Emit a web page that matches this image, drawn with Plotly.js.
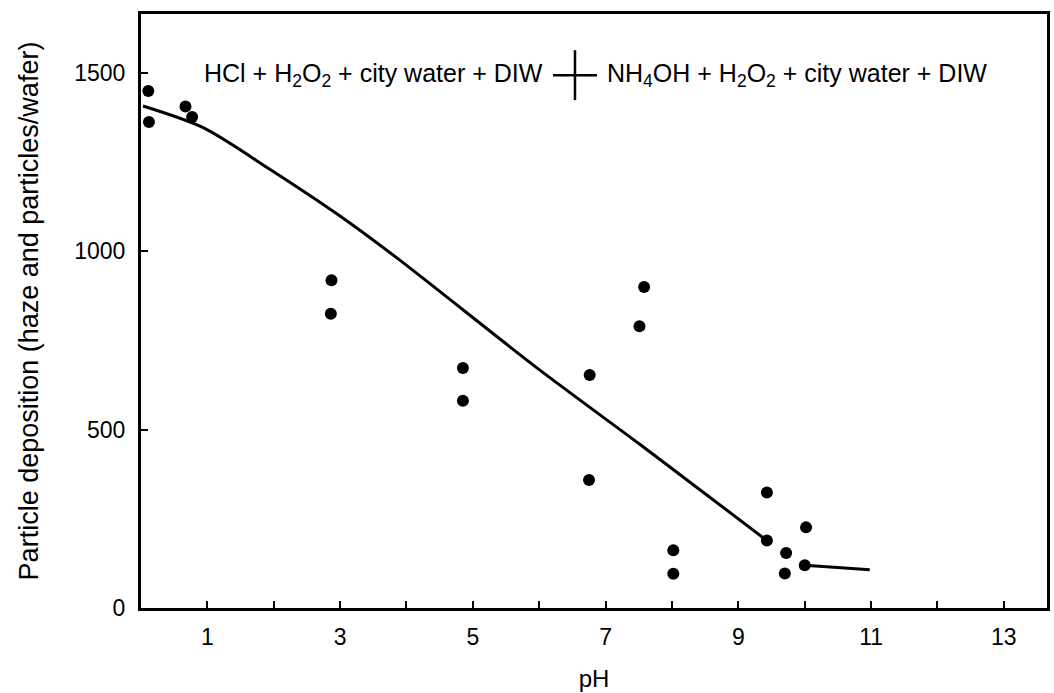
<!DOCTYPE html>
<html>
<head>
<meta charset="utf-8">
<script src="https://cdn.plot.ly/plotly-3.0.1.min.js"></script>
<style>
  html, body { margin: 0; padding: 0; background: #ffffff; }
  #chart { width: 1054px; height: 693px; }
</style>
</head>
<body>
<div id="chart"></div>
<script>
// ---- data ----
const pointPH    = [0.11, 0.12, 0.67, 0.77, 2.87, 2.86, 4.85, 4.85, 6.76, 6.75, 7.58, 7.51, 8.02, 8.02, 9.43, 9.43, 9.72, 9.70, 10.02, 10.0];
const pointValue = [1449, 1362, 1406, 1376, 919, 825, 673, 581, 653, 359, 900, 790, 162, 96, 324, 189, 154, 97, 226, 120];

const hclCurvePH    = [0.03, 0.93, 1.94, 2.95, 3.85, 5.98, 7.50, 8.41, 9.43];
const hclCurveValue = [1407, 1347, 1230, 1105, 982, 671, 461, 333, 189];

const nh4CurvePH    = [10.0, 10.98];
const nh4CurveValue = [120, 107];

const xTickVals  = [1, 2, 3, 4, 5, 6, 7, 8, 9, 10, 11, 12, 13];
const xTickText  = ['1', '', '3', '', '5', '', '7', '', '9', '', '11', '', '13'];
const yTickVals  = [0, 500, 1000, 1500];

const legendLeftText  = 'HCl + H<sub>2</sub>O<sub>2</sub> + city water + DIW';
const legendRightText = 'NH<sub>4</sub>OH + H<sub>2</sub>O<sub>2</sub> + city water + DIW';
const xTitle = 'pH';
const yTitle = 'Particle deposition (haze and particles/wafer)';

// ---- chart ----
const FONT = 'Liberation Sans, Arial, sans-serif';

const traces = [
  {
    x: hclCurvePH, y: hclCurveValue, type: 'scatter', mode: 'lines',
    line: { color: '#000', width: 3, shape: 'spline', smoothing: 0.8 },
    name: 'HCl', showlegend: false, hoverinfo: 'skip'
  },
  {
    x: nh4CurvePH, y: nh4CurveValue, type: 'scatter', mode: 'lines',
    line: { color: '#000', width: 3 },
    name: 'NH4OH', showlegend: false, hoverinfo: 'skip'
  },
  {
    x: pointPH, y: pointValue, type: 'scatter', mode: 'markers',
    marker: { color: '#000', size: 12, symbol: 'circle' },
    name: 'data', showlegend: false
  }
];

const layout = {
  width: 1054, height: 693,
  margin: { l: 141, r: 7, t: 14, b: 85 },
  paper_bgcolor: '#fff', plot_bgcolor: '#fff',
  showlegend: false,
  font: { family: FONT, color: '#000', size: 19 },
  xaxis: {
    range: [0, 13.65],
    tickmode: 'array', tickvals: xTickVals, ticktext: xTickText,
    ticks: 'inside', ticklen: 7, tickwidth: 2, tickcolor: '#000',
    showline: true, linecolor: '#000', linewidth: 3, mirror: true,
    showgrid: false, zeroline: false,
    tickfont: { family: FONT, size: 23, color: '#000' },
    ticklabelstandoff: 6,
    title: { text: xTitle, font: { family: FONT, size: 24, color: '#000' }, standoff: 22 }
  },
  yaxis: {
    range: [0, 1665],
    tickmode: 'array', tickvals: yTickVals,
    ticks: 'inside', ticklen: 7, tickwidth: 2, tickcolor: '#000',
    showline: true, linecolor: '#000', linewidth: 3, mirror: true,
    showgrid: false, zeroline: false,
    tickfont: { family: FONT, size: 23, color: '#000' },
    ticklabelstandoff: 8,
    title: { text: yTitle, font: { family: FONT, size: 27, color: '#000' }, standoff: 28 }
  },
  annotations: [
    {
      xref: 'paper', yref: 'paper', x: 0.446, y: 0.897,
      xanchor: 'right', yanchor: 'middle', showarrow: false,
      text: legendLeftText, font: { family: FONT, size: 25, color: '#000' }
    },
    {
      xref: 'paper', yref: 'paper', x: 0.512, y: 0.897,
      xanchor: 'left', yanchor: 'middle', showarrow: false,
      text: legendRightText, font: { family: FONT, size: 25, color: '#000' }
    }
  ],
  shapes: [
    { type: 'line', xref: 'paper', yref: 'paper', x0: 0.4547, x1: 0.5033, y0: 0.897, y1: 0.897,
      line: { color: '#000', width: 2.5 } },
    { type: 'line', xref: 'paper', yref: 'paper', x0: 0.479, x1: 0.479, y0: 0.855, y1: 0.939,
      line: { color: '#000', width: 2.5 } }
  ]
};

Plotly.newPlot('chart', traces, layout, { displayModeBar: false, staticPlot: true });
</script>
</body>
</html>
